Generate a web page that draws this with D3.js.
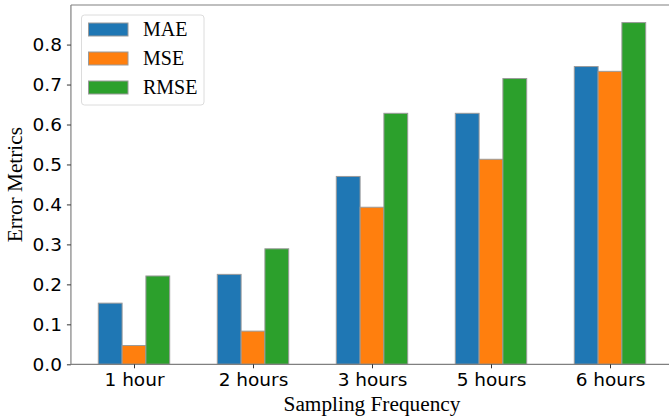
<!DOCTYPE html>
<html>
<head>
<meta charset="utf-8">
<script src="https://cdn.jsdelivr.net/npm/d3@7"></script>
<style>
  html, body { margin: 0; padding: 0; background: #fff; }
  svg { display: block; }
</style>
</head>
<body>
<svg id="chart" width="669" height="417"></svg>
<script>
const categories = ["1 hour", "2 hours", "3 hours", "5 hours", "6 hours"];
const seriesNames = ["MAE", "MSE", "RMSE"];
const maeValues = [0.153, 0.225, 0.470, 0.628, 0.745];
const mseValues = [0.047, 0.083, 0.393, 0.513, 0.733];
const rmseValues = [0.221, 0.289, 0.628, 0.715, 0.855];
const yTicks = [0.0, 0.1, 0.2, 0.3, 0.4, 0.5, 0.6, 0.7, 0.8];
const colors = ["#1f77b4", "#ff7f0e", "#2ca02c"];

const seriesValues = [maeValues, mseValues, rmseValues];

(function () {
const svg = d3.select("#chart");
const plotTop = 5, plotBottom = 364.3;
const step = 119; // px per category
const x0 = 134;   // first category center
const x = d3.scaleLinear().domain([0, 4]).range([x0, x0 + 4 * step]);
const xMin = -0.53, xMax = 4.53;
const yMax = 0.899;
const y = d3.scaleLinear().domain([0, yMax]).range([plotBottom, plotTop]);
const barW = 0.2;

// bars
const data = [];
categories.forEach((c, i) => {
  seriesNames.forEach((s, j) => {
    data.push({ i, j, v: seriesValues[j][i] });
  });
});
svg.append("g").selectAll("rect").data(data).join("rect")
  .attr("x", d => x(d.i + (d.j - 1) * barW - barW / 2))
  .attr("width", d => x(barW) - x(0))
  .attr("y", d => y(d.v))
  .attr("height", d => y(0) - y(d.v))
  .attr("fill", d => colors[d.j])
  .attr("stroke", "#9a9a9a")
  .attr("stroke-width", 1);

// spines
const spineColor = "#808080";
const spines = svg.append("g").attr("stroke", spineColor).attr("stroke-width", 1.2);
spines.append("line").attr("x1", x(xMin)).attr("x2", x(xMin)).attr("y1", y(yMax)).attr("y2", y(0));
spines.append("line").attr("x1", x(xMin)).attr("x2", x(xMax)).attr("y1", y(0)).attr("y2", y(0));
spines.append("line").attr("x1", x(xMin)).attr("x2", x(xMax)).attr("y1", y(yMax)).attr("y2", y(yMax));
spines.append("line").attr("x1", x(xMax)).attr("x2", x(xMax)).attr("y1", y(yMax)).attr("y2", y(0));

// y axis
const yAxis = d3.axisLeft(y).tickValues(yTicks).tickFormat(d3.format(".1f")).tickSize(4).tickPadding(5);
const gy = svg.append("g").attr("transform", `translate(${x(xMin)},0)`).call(yAxis);
gy.select(".domain").remove();
gy.selectAll(".tick line").attr("stroke", "#333");
gy.selectAll(".tick text").attr("font-family", "DejaVu Sans").attr("font-size", 18.5).attr("fill", "#000");

// x axis
const xAxis = d3.axisBottom(x).tickValues(d3.range(categories.length)).tickFormat(i => categories[i]).tickSize(4).tickPadding(5);
const gx = svg.append("g").attr("transform", `translate(0,${plotBottom})`).call(xAxis);
gx.select(".domain").remove();
gx.selectAll(".tick line").attr("stroke", "#333");
gx.selectAll(".tick text").attr("font-family", "DejaVu Sans").attr("font-size", 18.5).attr("fill", "#000");

// axis labels
svg.append("text").attr("x", (x(xMin) + x(xMax)) / 2).attr("y", 411)
  .attr("text-anchor", "middle").attr("font-family", "Liberation Serif").attr("font-size", 21.3)
  .text("Sampling Frequency");
svg.append("text").attr("transform", `translate(22,${(plotTop + plotBottom) / 2}) rotate(-90)`)
  .attr("text-anchor", "middle").attr("font-family", "Liberation Serif").attr("font-size", 21.3)
  .text("Error Metrics");

// legend
const lg = svg.append("g");
lg.append("rect").attr("x", 81.5).attr("y", 15).attr("width", 122.5).attr("height", 90).attr("rx", 3)
  .attr("fill", "#fff").attr("fill-opacity", 0.8).attr("stroke", "#dcdcdc").attr("stroke-width", 1);
seriesNames.forEach((s, j) => {
  const cy = 29.5 + j * 29;
  lg.append("rect").attr("x", 88.5).attr("y", cy - 6.5).attr("width", 39.5).attr("height", 13)
    .attr("fill", colors[j]).attr("stroke", "#9a9a9a").attr("stroke-width", 1);
  lg.append("text").attr("x", 143).attr("y", cy + 6.8).attr("font-family", "Liberation Serif")
    .attr("font-size", 20).text(s);
});
})();
</script>
</body>
</html>
